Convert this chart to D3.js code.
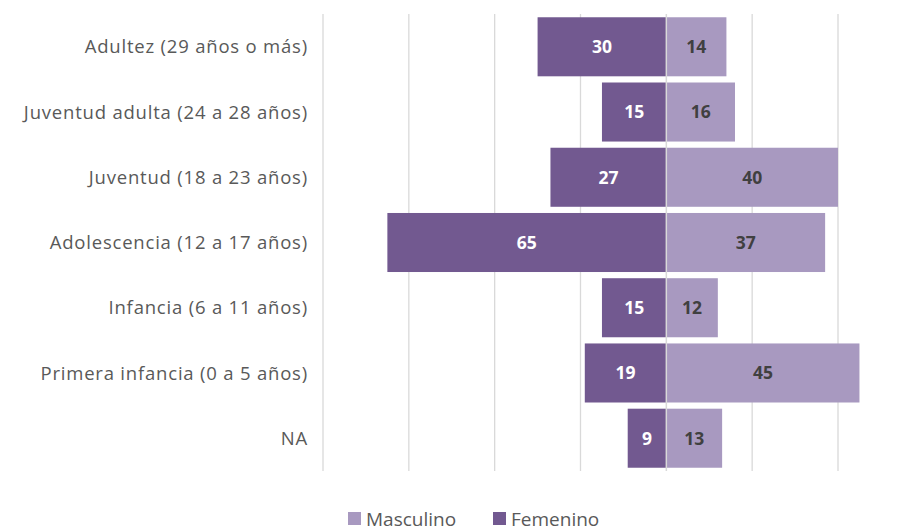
<!DOCTYPE html>
<html>
<head>
<meta charset="utf-8">
<script src="https://cdn.jsdelivr.net/npm/d3@7"></script>
<style>
  body { margin: 0; background: #fff; }
  text { font-family: "Open Sans", sans-serif; }
</style>
</head>
<body>
<div id="plot"></div>
<script>
// age groups, top to bottom
const categories = [
  "Adultez (29 años o más)",
  "Juventud adulta (24 a 28 años)",
  "Juventud (18 a 23 años)",
  "Adolescencia (12 a 17 años)",
  "Infancia (6 a 11 años)",
  "Primera infancia (0 a 5 años)",
  "NA"
];
const femenino = [30, 15, 27, 65, 15, 19, 9];
const masculino = [14, 16, 40, 37, 12, 45, 13];
const gridTicks = [-80, -60, -40, -20, 0, 20, 40];

const W = 914, H = 532;
const colFem = "#725990", colMas = "#a899c0";

const svg = d3.select("#plot").append("svg")
  .attr("width", W).attr("height", H);

const x = d3.scaleLinear().domain([-80, 40]).range([323, 838]);
const y = d3.scaleBand().domain(categories).range([14, 471]).paddingInner(0.095).paddingOuter(0.05);

// gridlines
svg.append("g").selectAll("line")
  .data(gridTicks.filter(d => d !== 0))
  .enter().append("line")
  .attr("x1", d => x(d)).attr("x2", d => x(d))
  .attr("y1", 14).attr("y2", 471)
  .attr("stroke", "#d9d9d9").attr("stroke-width", 1.3);

const rows = categories.map((c, i) => ({ cat: c, f: femenino[i], m: masculino[i] }));

// femenino bars (left)
svg.append("g").selectAll("rect")
  .data(rows).enter().append("rect")
  .attr("x", d => x(-d.f)).attr("y", d => y(d.cat))
  .attr("width", d => x(0) - x(-d.f)).attr("height", y.bandwidth())
  .attr("fill", colFem);

// masculino bars (right)
svg.append("g").selectAll("rect")
  .data(rows).enter().append("rect")
  .attr("x", x(0)).attr("y", d => y(d.cat))
  .attr("width", d => x(d.m) - x(0)).attr("height", y.bandwidth())
  .attr("fill", colMas);

// center axis line
svg.append("line")
  .attr("x1", x(0)).attr("x2", x(0)).attr("y1", 14).attr("y2", 471)
  .attr("stroke", "#d9d9d9").attr("stroke-width", 1.5);

// value labels
svg.append("g").selectAll("text")
  .data(rows).enter().append("text")
  .attr("x", d => (x(-d.f) + x(0)) / 2)
  .attr("y", d => y(d.cat) + y.bandwidth() / 2)
  .attr("dy", "0.36em").attr("text-anchor", "middle")
  .attr("font-size", 17.5).attr("font-weight", "bold").attr("fill", "#fff")
  .text(d => d.f);

svg.append("g").selectAll("text")
  .data(rows).enter().append("text")
  .attr("x", d => (x(d.m) + x(0)) / 2)
  .attr("y", d => y(d.cat) + y.bandwidth() / 2)
  .attr("dy", "0.36em").attr("text-anchor", "middle")
  .attr("font-size", 17.5).attr("font-weight", "bold").attr("fill", "#404040")
  .text(d => d.m);

// category labels
svg.append("g").selectAll("text")
  .data(categories).enter().append("text")
  .attr("x", 308)
  .attr("y", d => y(d) + y.bandwidth() / 2)
  .attr("dy", "0.36em").attr("text-anchor", "end")
  .attr("font-size", 18.5).attr("letter-spacing", 0.8).attr("fill", "#595959")
  .text(d => d);

// legend
const legend = [
  { name: "Masculino", color: colMas, x: 348 },
  { name: "Femenino", color: colFem, x: 493 }
];
const lg = svg.append("g").selectAll("g")
  .data(legend).enter().append("g")
  .attr("transform", d => `translate(${d.x},518)`);
lg.append("rect").attr("x", 0).attr("y", -6).attr("width", 13).attr("height", 13)
  .attr("fill", d => d.color);
lg.append("text").attr("x", 18).attr("y", 1).attr("dy", "0.36em")
  .attr("font-size", 19).attr("fill", "#595959")
  .text(d => d.name);
</script>
</body>
</html>
